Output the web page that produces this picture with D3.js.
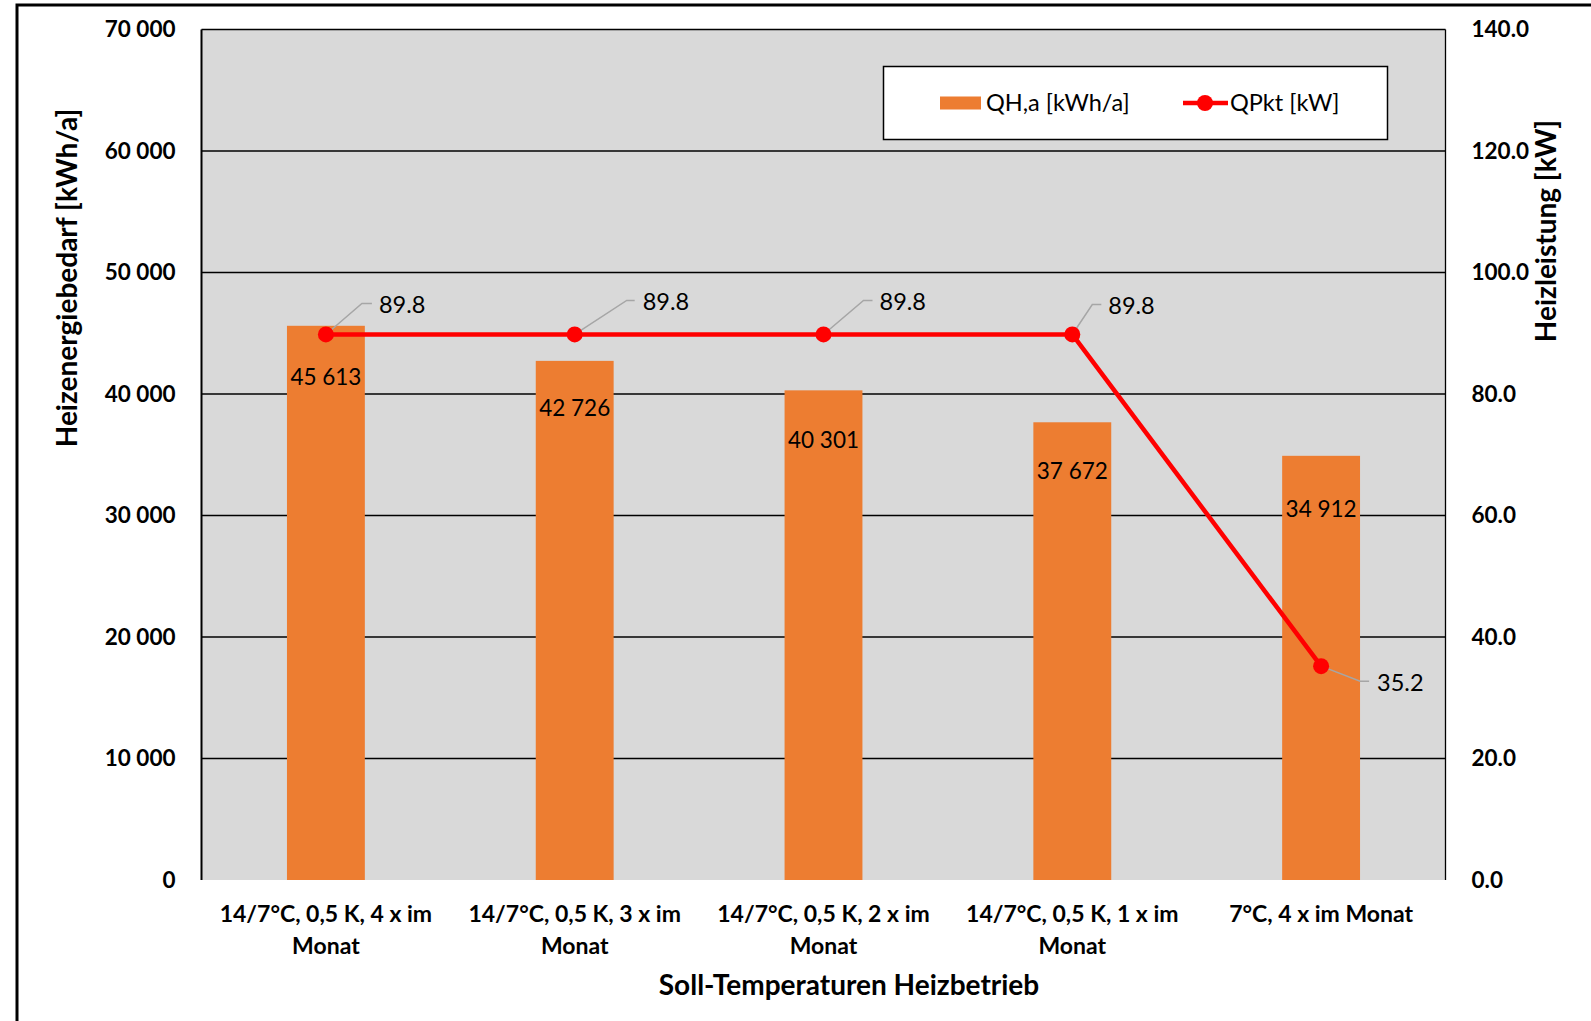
<!DOCTYPE html>
<html>
<head>
<meta charset="utf-8">
<script src="https://cdn.jsdelivr.net/npm/d3@7"></script>
<style>
  html, body { margin: 0; padding: 0; background: #fff; }
  svg { display: block; font-family: Lato, "Open Sans", sans-serif; }
</style>
</head>
<body>
<svg id="chart" width="1591" height="1021"></svg>
<script>
// ---- data ----
const categories = [
  ["14/7°C, 0,5 K, 4 x im", "Monat"],
  ["14/7°C, 0,5 K, 3 x im", "Monat"],
  ["14/7°C, 0,5 K, 2 x im", "Monat"],
  ["14/7°C, 0,5 K, 1 x im", "Monat"],
  ["7°C, 4 x im Monat"]
];
const energyDemand = [45613, 42726, 40301, 37672, 34912];   // QH,a [kWh/a]
const peakLoad = [89.8, 89.8, 89.8, 89.8, 35.2];             // QPkt [kW]
const leftTicks = [0, 10000, 20000, 30000, 40000, 50000, 60000, 70000];
const rightTicks = [0, 20, 40, 60, 80, 100, 120, 140];
const seriesNames = ["QH,a [kWh/a]", "QPkt [kW]"];
const leftTitle = "Heizenergiebedarf [kWh/a]";
const rightTitle = "Heizleistung [kW]";
const xTitle = "Soll-Temperaturen Heizbetrieb";

// ---- layout ----
const plot = { left: 201.5, right: 1445.5, top: 29.5, bottom: 880 };
const ORANGE = "#ED7D31", RED = "#FF0000", BG = "#D9D9D9", LEADER = "#A6A6A6";

const svg = d3.select("#chart");

// outer frame (only left/top edges visible)
svg.append("rect").attr("x", 17).attr("y", 5).attr("width", 1700).attr("height", 1200)
  .attr("fill", "none").attr("stroke", "#000").attr("stroke-width", 3);

const idx = categories.map((d, i) => i);
const x = d3.scaleBand().domain(idx).range([plot.left, plot.right])
  .paddingInner(0.687).paddingOuter(0.3435);
const yL = d3.scaleLinear().domain([0, 70000]).range([plot.bottom, plot.top]);
const yR = d3.scaleLinear().domain([0, 140]).range([plot.bottom, plot.top]);

// plot background
svg.append("rect").attr("x", plot.left).attr("y", plot.top)
  .attr("width", plot.right - plot.left).attr("height", plot.bottom - plot.top)
  .attr("fill", BG);

// gridlines
svg.append("g").selectAll("line").data(leftTicks.filter(t => t > 0)).join("line")
  .attr("x1", plot.left).attr("x2", plot.right)
  .attr("y1", d => yL(d)).attr("y2", d => yL(d))
  .attr("stroke", "#000").attr("stroke-width", 1.3);

// right border
svg.append("line").attr("x1", plot.right).attr("x2", plot.right)
  .attr("y1", plot.top).attr("y2", plot.bottom).attr("stroke", "#000").attr("stroke-width", 1.3);

// bars
svg.append("g").selectAll("rect").data(energyDemand).join("rect")
  .attr("x", (d, i) => x(i)).attr("width", x.bandwidth())
  .attr("y", d => yL(d)).attr("height", d => yL(0) - yL(d))
  .attr("fill", ORANGE);

// left axis line
svg.append("line").attr("x1", plot.left).attr("x2", plot.left)
  .attr("y1", plot.top).attr("y2", plot.bottom).attr("stroke", "#000").attr("stroke-width", 2);

// axes using d3 axis generators (labels only)
const fmtL = v => d3.format(",")(v).replace(/,/g, " ");
const axL = svg.append("g").attr("transform", `translate(${plot.left},0)`)
  .call(d3.axisLeft(yL).tickValues(leftTicks).tickFormat(fmtL).tickSize(0).tickPadding(26));
const axR = svg.append("g").attr("transform", `translate(${plot.right},0)`)
  .call(d3.axisRight(yR).tickValues(rightTicks).tickFormat(d3.format(".1f")).tickSize(0).tickPadding(26));
[axL, axR].forEach(a => {
  a.select(".domain").remove();
  a.selectAll("text").attr("font-family", "Lato, sans-serif").attr("font-size", 22.5)
    .attr("font-weight", "bold").attr("fill", "#000");
});

// category labels
const catG = svg.append("g");
categories.forEach((lines, i) => {
  const cx = x(i) + x.bandwidth() / 2;
  const t = catG.append("text").attr("x", cx).attr("y", 913)
    .attr("text-anchor", "middle").attr("font-size", 23).attr("font-weight", "bold")
    .attr("dominant-baseline", "central");
  lines.forEach((ln, j) => {
    t.append("tspan").attr("x", cx).attr("dy", j === 0 ? 0 : 32).text(ln);
  });
});

// axis titles
svg.append("text").attr("x", 849).attr("y", 984).attr("text-anchor", "middle")
  .attr("dominant-baseline", "central").attr("font-size", 28).attr("font-weight", "bold")
  .text(xTitle);
svg.append("text").attr("transform", "translate(66,278) rotate(-90)").attr("text-anchor", "middle")
  .attr("dominant-baseline", "central").attr("font-size", 28).attr("font-weight", "bold")
  .text(leftTitle);
svg.append("text").attr("transform", "translate(1545,231) rotate(-90)").attr("text-anchor", "middle")
  .attr("dominant-baseline", "central").attr("font-size", 28).attr("font-weight", "bold")
  .text(rightTitle);

// bar data labels (distance below bar top, as placed in original)
const barLabelDy = [50.5, 47, 49, 48.5, 52.5];
svg.append("g").selectAll("text").data(energyDemand).join("text")
  .attr("x", (d, i) => x(i) + x.bandwidth() / 2)
  .attr("y", (d, i) => yL(d) + barLabelDy[i])
  .attr("text-anchor", "middle").attr("dominant-baseline", "central")
  .attr("font-size", 22.5).attr("fill", "#000")
  .text(d => fmtL(d));

// line series
const pts = peakLoad.map((v, i) => [x(i) + x.bandwidth() / 2, yR(v)]);
svg.append("path").datum(pts).attr("d", d3.line())
  .attr("fill", "none").attr("stroke", RED).attr("stroke-width", 4.5).attr("stroke-linejoin", "round");

// leader lines + labels (manually positioned in original)
const leaderOffsets = [
  { ex: 36, ey: -31, hx: 46, tx: 53 },
  { ex: 52, ey: -34, hx: 60, tx: 68 },
  { ex: 40, ey: -34, hx: 49, tx: 56 },
  { ex: 20, ey: -30, hx: 29, tx: 36 },
  { ex: 39, ey: 15, hx: 48, tx: 56 }
];
const lg = svg.append("g");
pts.forEach((p, i) => {
  const o = leaderOffsets[i];
  lg.append("polyline")
    .attr("points", `${p[0]},${p[1]} ${p[0] + o.ex},${p[1] + o.ey} ${p[0] + o.hx},${p[1] + o.ey}`)
    .attr("fill", "none").attr("stroke", LEADER).attr("stroke-width", 1.5);
});
svg.append("g").selectAll("circle").data(pts).join("circle")
  .attr("cx", d => d[0]).attr("cy", d => d[1]).attr("r", 8).attr("fill", RED);
pts.forEach((p, i) => {
  const o = leaderOffsets[i];
  lg.append("text").attr("x", p[0] + o.tx).attr("y", p[1] + o.ey + 1)
    .attr("dominant-baseline", "central").attr("font-size", 23.5).text(d3.format(".1f")(peakLoad[i]));
});

// legend
const leg = svg.append("g");
leg.append("rect").attr("x", 883.5).attr("y", 66.5).attr("width", 504).attr("height", 73)
  .attr("fill", "#fff").attr("stroke", "#000").attr("stroke-width", 1.5);
leg.append("rect").attr("x", 940).attr("y", 96.5).attr("width", 41).attr("height", 13).attr("fill", ORANGE);
leg.append("text").attr("x", 986).attr("y", 101.5).attr("dominant-baseline", "central")
  .attr("font-size", 23.5).text(seriesNames[0]);
leg.append("line").attr("x1", 1183).attr("x2", 1228).attr("y1", 103).attr("y2", 103)
  .attr("stroke", RED).attr("stroke-width", 4.5);
leg.append("circle").attr("cx", 1205).attr("cy", 103).attr("r", 8).attr("fill", RED);
leg.append("text").attr("x", 1230).attr("y", 101.5).attr("dominant-baseline", "central")
  .attr("font-size", 23.5).text(seriesNames[1]);
</script>
</body>
</html>
